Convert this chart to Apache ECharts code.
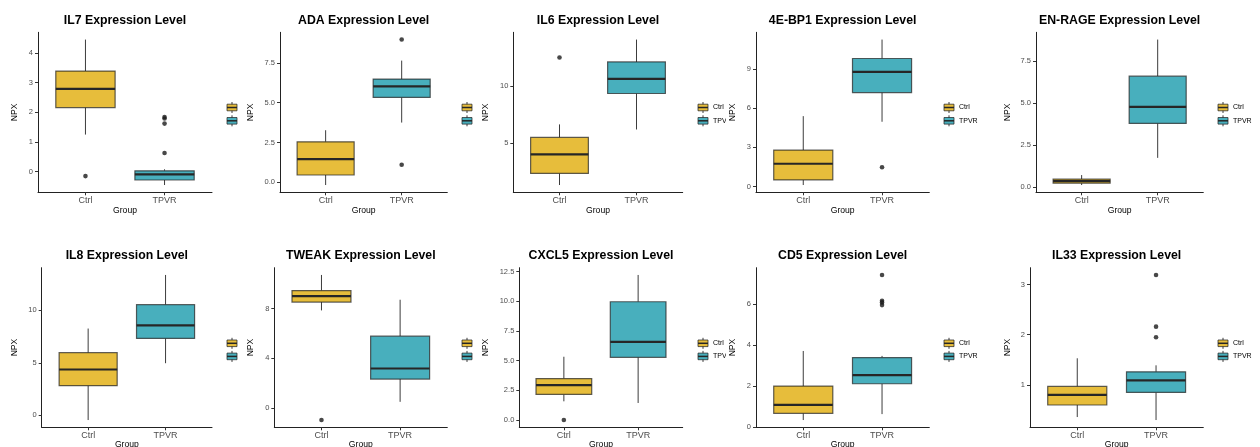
<!DOCTYPE html>
<html><head><meta charset="utf-8">
<script src="https://cdn.jsdelivr.net/npm/echarts@6/dist/echarts.min.js"></script>
<style>
html,body{margin:0;padding:0;background:#fff;width:1260px;height:447px;overflow:hidden;}
.p{position:absolute;background:#fff;overflow:hidden;}
</style></head><body>
<script>
// ---------------- data ----------------
const titles = ['IL7 Expression Level', 'ADA Expression Level', 'IL6 Expression Level', '4E-BP1 Expression Level', 'EN-RAGE Expression Level',
                'IL8 Expression Level', 'TWEAK Expression Level', 'CXCL5 Expression Level', 'CD5 Expression Level', 'IL33 Expression Level'];
const groups = ['Ctrl', 'TPVR'];
// [lower whisker, Q1, median, Q3, upper whisker]
const ctrlStats = [
  [1.25, 2.16, 2.79, 3.39, 4.45],
  [-0.17, 0.46, 1.46, 2.54, 3.27],
  [1.27, 2.30, 3.98, 5.48, 6.63],
  [0.11, 0.50, 1.74, 2.79, 5.39],
  [0.14, 0.25, 0.37, 0.49, 0.73],
  [-0.44, 2.83, 4.37, 5.97, 8.27],
  [7.86, 8.53, 9.01, 9.46, 10.72],
  [1.56, 2.14, 2.93, 3.48, 5.32],
  [0.33, 0.66, 1.07, 1.99, 3.70],
  [0.36, 0.60, 0.80, 0.97, 1.53]
];
const tpvrStats = [
  [-0.45, -0.28, -0.09, 0.03, 0.08],
  [3.75, 5.33, 6.02, 6.48, 7.64],
  [6.18, 9.36, 10.65, 12.15, 14.13],
  [4.96, 7.20, 8.78, 9.81, 11.26],
  [1.75, 3.79, 4.77, 6.59, 8.76],
  [4.97, 7.33, 8.58, 10.54, 13.37],
  [0.48, 2.32, 3.17, 5.78, 8.72],
  [1.42, 5.27, 6.58, 9.96, 12.22],
  [0.62, 2.10, 2.52, 3.38, 3.46],
  [0.30, 0.85, 1.09, 1.26, 1.39]
];
const ctrlOutliers = [[-0.15], [], [12.54], [], [], [], [-0.99], [-0.02], [], []];
const tpvrOutliers = [[0.63, 1.62, 1.79, 1.84], [1.10, 8.96], [], [1.47], [], [], [], [], [5.94, 6.07, 6.15, 7.41], [1.95, 2.16, 3.19]];
const yTicks = [[0, 1, 2, 3, 4], [0, 2.5, 5, 7.5], [5, 10], [0, 3, 6, 9], [0, 2.5, 5, 7.5],
                [0, 5, 10], [0, 4, 8], [0, 2.5, 5, 7.5, 10, 12.5], [0, 2, 4, 6], [1, 2, 3]];

// ---------------- layout / style ----------------
const FONT = 'Liberation Sans, Arial, Helvetica, sans-serif';
const fillColors = ['#E7BD3B', '#48AFBD'];
const colLeft = [0, 241, 477, 726, 990];
const colRight = [241, 477, 726, 990, 1260];
const axisRight = [212, 447.3, 682.7, 929.3, 1203.3];
const axisLeft = [38, 280, 513.3, 756, 1036, 41.7, 274.3, 519.3, 756, 1030];
const npxX = [15, 251, 486, 733, 1008];
const legendX = [227, 462, 698, 944, 1218];
const rows = [
  {top: 0, h: 230, gridTop: 32.3, gridBottom: 192.3, titleY: 20.5, groupY: 210.5, legY: [107.5, 120.8]},
  {top: 230, h: 217, gridTop: 37.7, gridBottom: 197.3, titleY: 26, groupY: 215, legY: [113.3, 126.4]}
];

function decimals(arr) {
  let d = 0;
  arr.forEach(v => { const s = String(v); if (s.indexOf('.') >= 0) d = Math.max(d, s.split('.')[1].length); });
  return d;
}

function renderBox(params, api) {
  const x = api.value(0);
  const lo = api.coord([x, api.value(1)]);
  const q1 = api.coord([x, api.value(2)]);
  const md = api.coord([x, api.value(3)]);
  const q3 = api.coord([x, api.value(4)]);
  const hi = api.coord([x, api.value(5)]);
  const hw = api.size([0.75, 0])[0] / 2;
  const color = api.visual('color');
  const wStyle = {stroke: '#3c3c3c', lineWidth: 1};
  return {type: 'group', children: [
    {type: 'line', shape: {x1: lo[0], y1: lo[1], x2: q1[0], y2: q1[1]}, style: wStyle},
    {type: 'line', shape: {x1: q3[0], y1: q3[1], x2: hi[0], y2: hi[1]}, style: wStyle},
    {type: 'rect', shape: {x: q1[0] - hw, y: q3[1], width: 2 * hw, height: q1[1] - q3[1]},
     style: {fill: color, stroke: 'rgba(35,35,35,0.72)', lineWidth: 1.2}},
    {type: 'line', shape: {x1: md[0] - hw, y1: md[1], x2: md[0] + hw, y2: md[1]},
     style: {stroke: '#262626', lineWidth: 2.2}}
  ]};
}

function txt(x, y, text, size, opts) {
  opts = opts || {};
  return {type: 'text', x: x, y: y, rotation: opts.rot || 0, z: 10,
    style: {text: text, fontSize: size, fontWeight: opts.bold ? 'bold' : 'normal', fontFamily: FONT,
            fill: opts.fill || '#000', align: opts.align || 'center', verticalAlign: 'middle',
            textAlign: opts.align || 'center', textVerticalAlign: 'middle'}};
}

function legendKey(x, y, color) {
  return {type: 'group', children: [
    {type: 'line', shape: {x1: x + 5, y1: y - 5.5, x2: x + 5, y2: y + 5.5}, style: {stroke: '#3c3c3c', lineWidth: 1}},
    {type: 'rect', shape: {x: x, y: y - 3.3, width: 10, height: 6.6}, style: {fill: color, stroke: 'rgba(35,35,35,0.72)', lineWidth: 1}},
    {type: 'line', shape: {x1: x, y1: y, x2: x + 10, y2: y}, style: {stroke: '#262626', lineWidth: 1.5}}
  ]};
}

for (let i = 0; i < 10; i++) {
  const r = Math.floor(i / 5), c = i % 5;
  const row = rows[r];
  const div = document.createElement('div');
  div.className = 'p';
  div.style.left = colLeft[c] + 'px';
  div.style.top = row.top + 'px';
  div.style.width = (colRight[c] - colLeft[c]) + 'px';
  div.style.height = row.h + 'px';
  document.body.appendChild(div);

  const off = colLeft[c];
  const gl = axisLeft[i] - off;
  const gw = axisRight[c] - axisLeft[i];
  const all = ctrlStats[i].concat(tpvrStats[i], ctrlOutliers[i], tpvrOutliers[i]);
  const dmin = Math.min.apply(null, all), dmax = Math.max.apply(null, all);
  const pad = (dmax - dmin) * 0.05;
  const dec = decimals(yTicks[i]);

  const chart = echarts.init(div, null, {renderer: 'canvas', width: colRight[c] - colLeft[c], height: row.h});
  const cx = gl + gw / 2;
  const graphics = [
    txt(cx, row.titleY, titles[i], 12.3, {bold: true}),
    txt(npxX[c] - off, (row.gridTop + row.gridBottom) / 2, 'NPX', 8.6, {rot: Math.PI / 2}),
    txt(cx, row.groupY, 'Group', 8.6),
    legendKey(legendX[c] - off, row.legY[0], fillColors[0]),
    legendKey(legendX[c] - off, row.legY[1], fillColors[1]),
    txt(legendX[c] - off + 15, row.legY[0], groups[0], 7, {align: 'left'}),
    txt(legendX[c] - off + 15, row.legY[1], groups[1], 7, {align: 'left'})
  ];

  chart.setOption({
    animation: false,
    backgroundColor: '#fff',
    grid: {left: gl, top: row.gridTop, width: gw, height: row.gridBottom - row.gridTop, containLabel: false},
    xAxis: {
      type: 'value', min: 0.4, max: 2.6,
      axisLine: {show: true, onZero: false, lineStyle: {color: '#222', width: 1}},
      axisTick: {show: true, customValues: [1, 2], length: 3, lineStyle: {color: '#333', width: 1}},
      axisLabel: {show: true, customValues: [1, 2], margin: 3.5, fontSize: 9, color: '#4d4d4d', fontFamily: FONT,
                  formatter: v => groups[Math.round(v) - 1]},
      splitLine: {show: false}
    },
    yAxis: {
      type: 'value', min: dmin - pad, max: dmax + pad,
      axisLine: {show: true, onZero: false, lineStyle: {color: '#222', width: 1}},
      axisTick: {show: true, customValues: yTicks[i], length: 3, lineStyle: {color: '#333', width: 1}},
      axisLabel: {show: true, customValues: yTicks[i], margin: 5, fontSize: 7.5, color: '#4d4d4d', fontFamily: FONT,
                  formatter: v => Number(v).toFixed(dec)},
      splitLine: {show: false}
    },
    graphic: graphics,
    series: [
      {name: groups[0], type: 'custom', renderItem: renderBox, clip: false, itemStyle: {color: fillColors[0]},
       encode: {x: 0, y: [1, 2, 3, 4, 5]}, data: [[1].concat(ctrlStats[i])]},
      {name: groups[1], type: 'custom', renderItem: renderBox, clip: false, itemStyle: {color: fillColors[1]},
       encode: {x: 0, y: [1, 2, 3, 4, 5]}, data: [[2].concat(tpvrStats[i])]},
      {name: 'outliers', type: 'scatter', symbol: 'circle', symbolSize: 4.6, itemStyle: {color: '#1a1a1a'}, z: 5,
       data: ctrlOutliers[i].map(v => [1, v]).concat(tpvrOutliers[i].map(v => [2, v]))}
    ]
  });
}
</script>
</body></html>
